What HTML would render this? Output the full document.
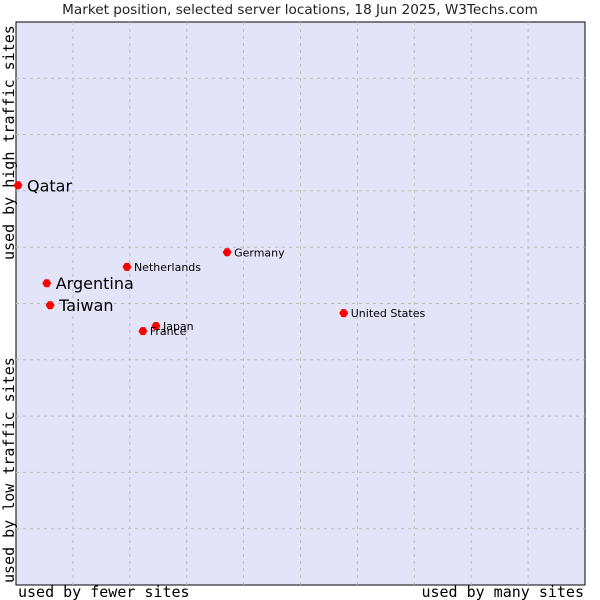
<!DOCTYPE html>
<html><head><meta charset="utf-8"><style>
body{margin:0;background:#fff;}
svg{display:block;font-family:"DejaVu Sans","Liberation Sans",sans-serif;}
</style></head><body>
<svg id="chart" width="600" height="600">
<text x="300" y="14" text-anchor="middle" font-size="13.6" fill="#222">Market position, selected server locations, 18 Jun 2025, W3Techs.com</text>
<rect x="16" y="22" width="569" height="563" fill="#e3e4f8" stroke="#000" stroke-width="1"/>
<g id="grid"></g>
<g id="points"></g>
<text x="18" y="597" font-family="DejaVu Sans Mono,monospace" font-size="15" fill="#000">used by fewer sites</text>
<text x="584" y="597" text-anchor="end" font-family="DejaVu Sans Mono,monospace" font-size="15" fill="#000">used by many sites</text>
<text transform="translate(14,260) rotate(-90)" font-family="DejaVu Sans Mono,monospace" font-size="15" fill="#000">used by high traffic sites</text>
<text transform="translate(14,583) rotate(-90)" font-family="DejaVu Sans Mono,monospace" font-size="15" fill="#000">used by low traffic sites</text>
</svg>
<script>
const names=["Qatar","Argentina","Taiwan","Netherlands","Germany","United States","Japan","France"];
const xVals=[0.35,5.4,6.0,19.5,37.1,57.6,24.6,22.3];
const yVals=[71.0,53.6,49.7,56.5,59.1,48.3,46.0,45.1];
const bigLabel=[true,true,true,false,false,false,false,false];
const L=16,T=22,W=569,H=563;
const sx=v=>L+v/100*W, sy=v=>T+H-v/100*H;
const ns="http://www.w3.org/2000/svg";
const grid=document.getElementById('grid'), pts=document.getElementById('points');
for(let i=1;i<10;i++){
  const gx=document.createElementNS(ns,'line');
  gx.setAttribute('x1',sx(i*10));gx.setAttribute('x2',sx(i*10));gx.setAttribute('y1',T);gx.setAttribute('y2',T+H);
  gx.setAttribute('stroke','#bdbdbd');gx.setAttribute('stroke-dasharray','3,4');
  
  
  grid.appendChild(gx);
  const gy=document.createElementNS(ns,'line');
  gy.setAttribute('y1',sy(i*10));gy.setAttribute('y2',sy(i*10));gy.setAttribute('x1',L);gy.setAttribute('x2',L+W);
  gy.setAttribute('stroke','#bdbdbd');gy.setAttribute('stroke-dasharray','3,4');
  
  
  grid.appendChild(gy);
}
names.forEach((n,i)=>{
  const cx=sx(xVals[i]),cy=sy(yVals[i]);
  const p=document.createElementNS(ns,'polygon');
  p.setAttribute('points',`${cx-4.5},${cy} ${cx-2},${cy-4} ${cx+2},${cy-4} ${cx+4.5},${cy} ${cx+2},${cy+4} ${cx-2},${cy+4}`);
  p.setAttribute('fill','#ff0000');
  
  
  pts.appendChild(p);
  const t=document.createElementNS(ns,'text');
  const big=bigLabel[i];
  t.setAttribute('x',cx+(big?9:7));t.setAttribute('y',cy+(big?6:4));
  t.setAttribute('font-size',big?16:11);t.setAttribute('fill','#000');
  t.textContent=n;
  
  
  pts.appendChild(t);
});
</script>
</body></html>
